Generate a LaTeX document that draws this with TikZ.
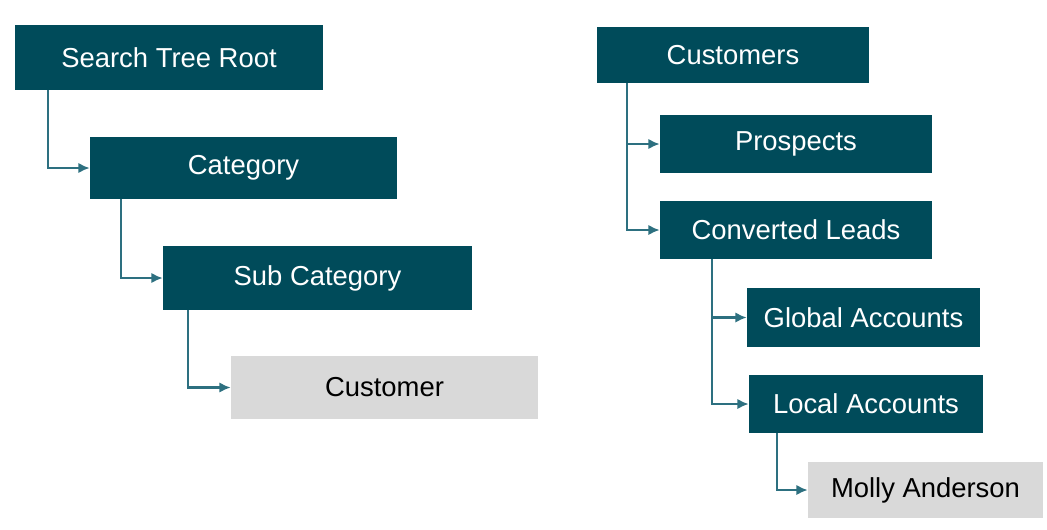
\documentclass[tikz,border=0pt]{standalone}
\usepackage{fontspec}
\setmainfont{Liberation Sans}
\usetikzlibrary{arrows.meta, positioning}
\definecolor{treeteal}{RGB}{0,75,90}
\definecolor{linkteal}{RGB}{45,112,128}
\definecolor{leafgray}{RGB}{217,217,217}

\begin{document}
\begin{tikzpicture}[
  x=0.025cm, y=-0.025cm,
  tbox/.style={rectangle, fill=#1, inner sep=0pt, font=\fontsize{19.5}{23}\selectfont,
               text=white, minimum height=1.55cm},
  leaf/.style={tbox=leafgray, text=black},
  arr/.style={-{Latex[length=2.8mm, width=2.6mm]}, line width=1.6pt, linkteal},
]
  \useasboundingbox (0,0) rectangle (1047,529);

  % Search tree
  \node[tbox=treeteal, minimum width=7.7cm,   minimum height=1.625cm] (root) at (169,57.5)  {Search Tree Root};
  \node[tbox=treeteal, minimum width=7.675cm]                          (cat)  at (243.5,168)  {Category};
  \node[tbox=treeteal, minimum width=7.725cm, minimum height=1.6cm]   (sub)  at (317.5,278)  {Sub Category};
  \node[leaf,          minimum width=7.675cm, minimum height=1.575cm] (cus)  at (384.5,387.5){Customer};

  \draw[arr] ([xshift=0.825cm]root.south west) |- (cat.west);
  \draw[arr] ([xshift=0.775cm]cat.south west)  |- (sub.west);
  \draw[arr] ([xshift=0.625cm]sub.south west)  |- (cus.west);

  % Customer tree
  \node[tbox=treeteal, minimum width=6.8cm,   minimum height=1.4cm]   (custs) at (733,55)    {Customers};
  \node[tbox=treeteal, minimum width=6.8cm,   minimum height=1.45cm]  (pros)  at (796,144)   {Prospects};
  \node[tbox=treeteal, minimum width=6.8cm,   minimum height=1.45cm]  (conv)  at (796,230)   {Converted Leads};
  \node[tbox=treeteal, minimum width=5.825cm, minimum height=1.475cm] (glob)  at (863.5,317.5){Global Accounts};
  \node[tbox=treeteal, minimum width=5.85cm,  minimum height=1.45cm]  (loc)   at (866,404)   {Local Accounts};
  \node[leaf,          minimum width=5.875cm, minimum height=1.4cm]   (molly) at (925.5,490) {Molly Anderson};

  \draw[arr] ([xshift=0.75cm]custs.south west) |- (pros.west);
  \draw[arr] ([xshift=0.75cm]custs.south west) |- (conv.west);
  \draw[arr] ([xshift=1.3cm]conv.south west)   |- (glob.west);
  \draw[arr] ([xshift=1.3cm]conv.south west)   |- (loc.west);
  \draw[arr] ([xshift=0.7cm]loc.south west)    |- (molly.west);
\end{tikzpicture}
\end{document}
